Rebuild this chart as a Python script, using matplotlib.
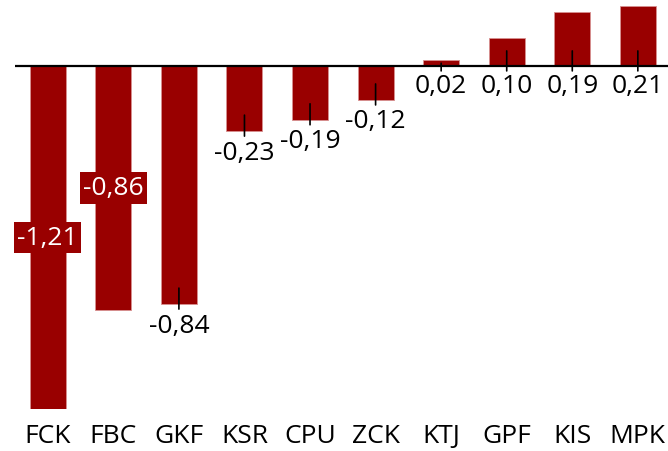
import matplotlib
matplotlib.use('Agg')
from matplotlib import pyplot as plt
from matplotlib.transforms import offset_copy

teams = ['FCK', 'FBC', 'GKF', 'KSR', 'CPU', 'ZCK', 'KTJ', 'GPF', 'KIS', 'MPK']
values = [-1.21, -0.86, -0.84, -0.23, -0.19, -0.12, 0.02, 0.10, 0.19, 0.21]
inside_labels = ['FCK', 'FBC']  # these two get the boxed white label in the middle of the bar

BAR_COLOR = '#990000'
W, H = 668, 452
Y_MIN, Y_MAX = -1.21, 0.236

plt.rcParams['font.family'] = ['Open Sans', 'DejaVu Sans']

fig = plt.figure(figsize=(W / 100, H / 100), dpi=100)
ax = fig.add_axes([15 / W, (H - 410) / H, 1 - 15 / W, 410 / H])

x = list(range(len(teams)))
ax.bar(x, values, width=0.55, color=BAR_COLOR, edgecolor='#d89090', linewidth=0.6, zorder=2)
ax.axhline(0, color='black', linewidth=1.6, zorder=3)

ax.set_xlim(-0.5, 9.46)
ax.set_ylim(Y_MIN, Y_MAX)

for s in ax.spines.values():
    s.set_visible(False)
ax.set_yticks([])
ax.set_xticks(x)
ax.set_xticklabels(teams, fontsize=19)
ax.tick_params(axis='x', length=0, pad=10)


def px(dy):
    # data transform shifted by dy pixels
    return offset_copy(ax.transData, fig=fig, x=0, y=dy, units='dots')


def marker(i, y, lo, hi):
    ax.annotate('', xy=(i, y), xycoords=px(lo), xytext=(i, y), textcoords=px(hi),
                arrowprops=dict(arrowstyle='-', color='black', lw=1.2, shrinkA=0, shrinkB=0), zorder=5)


for i, (team, v) in enumerate(zip(teams, values)):
    label = f'{v:.2f}'.replace('.', ',')
    if team in inside_labels:
        ax.text(i, v / 2, label, color='white', fontsize=19, ha='center', va='center',
                bbox=dict(facecolor=BAR_COLOR, edgecolor='none', boxstyle='square,pad=0.12'), zorder=4)
    elif v < 0:
        marker(i, v, -5, 16)
        ax.text(i, v, label, fontsize=19, ha='center', va='center', transform=px(-21), zorder=5)
    else:
        bar_px = v * 410 / (Y_MAX - Y_MIN)
        marker(i, 0, -5, min(15, bar_px - 3))
        ax.text(i, 0, label, fontsize=19, ha='center', va='center', transform=px(-20), zorder=5)

fig.savefig('out.png', dpi=100)
